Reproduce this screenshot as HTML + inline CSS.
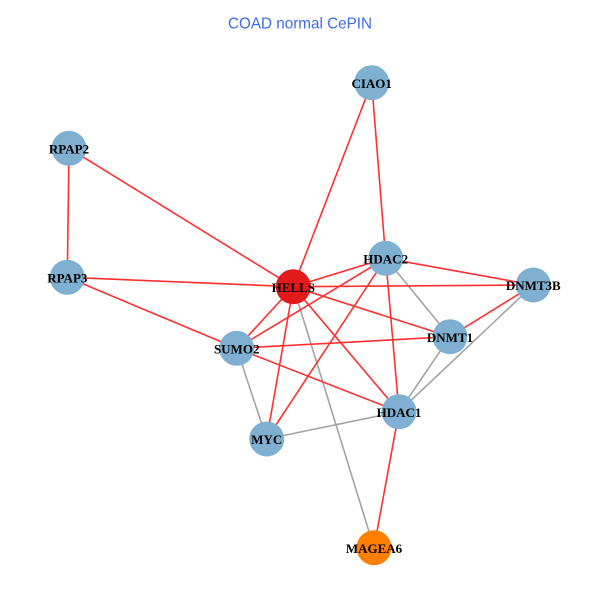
<!DOCTYPE html>
<html>
<head>
<meta charset="utf-8">
<style>
html,body{margin:0;padding:0;background:#fff;}
svg{display:block;}
.lbl{font-family:"Liberation Serif",serif;font-weight:bold;font-size:13px;fill:#000;text-anchor:middle;dominant-baseline:central;}
</style>
</head>
<body>
<svg width="600" height="600" viewBox="0 0 600 600" xmlns="http://www.w3.org/2000/svg">
<rect width="600" height="600" fill="#fff"/>
<text x="228" y="28.3" font-family="Liberation Sans, sans-serif" font-size="16" fill="#3b6bf0" textLength="144" lengthAdjust="spacingAndGlyphs">COAD normal CePIN</text>
<g stroke="#a3a3a3" stroke-width="1.6" fill="none">
<line x1="385.7" y1="258.3" x2="450" y2="336.7"/>
<line x1="450" y1="336.7" x2="399" y2="411.7"/>
<line x1="533.3" y1="285" x2="399" y2="411.7"/>
<line x1="236.7" y1="348.3" x2="266.7" y2="439"/>
<line x1="266.7" y1="439" x2="399" y2="411.7"/>
<line x1="293.3" y1="286.7" x2="374" y2="547.7"/>
</g>
<g stroke="#ff3030" stroke-width="1.6" fill="none">
<line x1="371.7" y1="82.7" x2="293.3" y2="286.7"/>
<line x1="371.7" y1="82.7" x2="385.7" y2="258.3"/>
<line x1="69" y1="148.3" x2="67.3" y2="277.3"/>
<line x1="69" y1="148.3" x2="293.3" y2="286.7"/>
<line x1="67.3" y1="277.3" x2="293.3" y2="286.7"/>
<line x1="67.3" y1="277.3" x2="236.7" y2="348.3"/>
<line x1="293.3" y1="286.7" x2="385.7" y2="258.3"/>
<line x1="293.3" y1="286.7" x2="533.3" y2="285"/>
<line x1="293.3" y1="286.7" x2="450" y2="336.7"/>
<line x1="293.3" y1="286.7" x2="399" y2="411.7"/>
<line x1="293.3" y1="286.7" x2="266.7" y2="439"/>
<line x1="293.3" y1="286.7" x2="236.7" y2="348.3"/>
<line x1="385.7" y1="258.3" x2="236.7" y2="348.3"/>
<line x1="385.7" y1="258.3" x2="266.7" y2="439"/>
<line x1="385.7" y1="258.3" x2="399" y2="411.7"/>
<line x1="385.7" y1="258.3" x2="533.3" y2="285"/>
<line x1="236.7" y1="348.3" x2="450" y2="336.7"/>
<line x1="236.7" y1="348.3" x2="399" y2="411.7"/>
<line x1="450" y1="336.7" x2="533.3" y2="285"/>
<line x1="399" y1="411.7" x2="374" y2="547.7"/>
</g>
<g fill="#7fb0d2">
<circle cx="371.7" cy="82.7" r="17.5"/>
<circle cx="69" cy="148.3" r="17.5"/>
<circle cx="67.3" cy="277.3" r="17.5"/>
<circle cx="385.7" cy="258.3" r="17.5"/>
<circle cx="533.3" cy="285" r="17.5"/>
<circle cx="450" cy="336.7" r="17.5"/>
<circle cx="236.7" cy="348.3" r="17.5"/>
<circle cx="399" cy="411.7" r="17.5"/>
<circle cx="266.7" cy="439" r="17.5"/>
</g>
<circle cx="293.3" cy="286.7" r="17.5" fill="#e31a1c"/>
<circle cx="374" cy="547.7" r="17.5" fill="#ff7f00"/>
<text class="lbl" x="371.7" y="83.5">CIAO1</text>
<text class="lbl" x="69" y="149">RPAP2</text>
<text class="lbl" x="67.3" y="278">RPAP3</text>
<text class="lbl" x="385.7" y="259">HDAC2</text>
<text class="lbl" x="533.3" y="285.7">DNMT3B</text>
<text class="lbl" x="450" y="337.4">DNMT1</text>
<text class="lbl" x="236.7" y="349">SUMO2</text>
<text class="lbl" x="399" y="412.4">HDAC1</text>
<text class="lbl" x="266.7" y="439.7">MYC</text>
<text class="lbl" x="293.3" y="287.4">HELLS</text>
<text class="lbl" x="374" y="548.4">MAGEA6</text>
</svg>
</body>
</html>
